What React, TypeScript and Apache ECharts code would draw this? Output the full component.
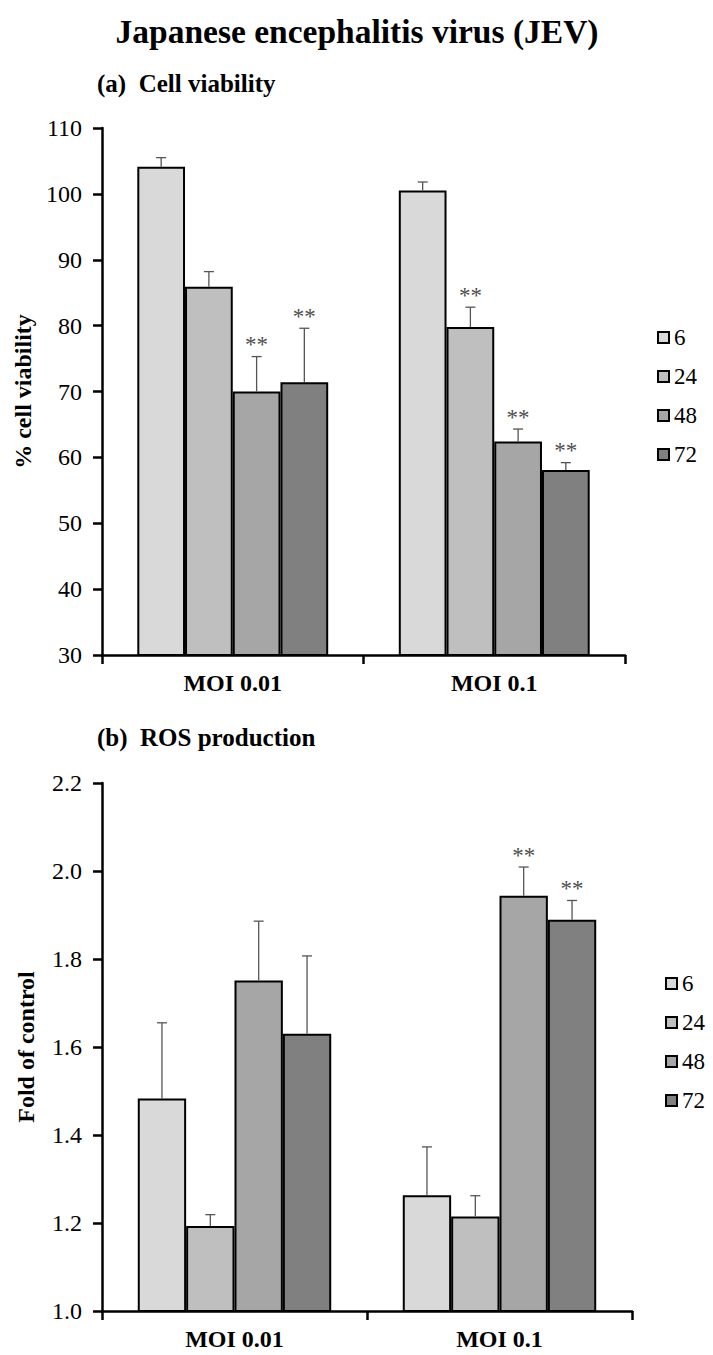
import React, { useEffect, useRef } from "react";
import * as echarts from "echarts";

const categories = ["MOI 0.01", "MOI 0.1"];
const hours = ["6", "24", "48", "72"];
const barColors = ["#d9d9d9", "#bfbfbf", "#a6a6a6", "#808080"];

// (a) Cell viability, % — one array per time point: [MOI 0.01, MOI 0.1]
const viability6 = [104.1, 100.5];
const viability24 = [85.9, 79.8];
const viability48 = [70.0, 62.4];
const viability72 = [71.4, 58.1];
const viabilityErr6 = [1.4, 1.3];
const viabilityErr24 = [2.3, 3.0];
const viabilityErr48 = [5.3, 1.9];
const viabilityErr72 = [8.2, 1.1];
const viabilitySig6 = [false, false];
const viabilitySig24 = [false, true];
const viabilitySig48 = [true, true];
const viabilitySig72 = [true, true];

// (b) ROS production, fold of control
const ros6 = [1.483, 1.263];
const ros24 = [1.193, 1.215];
const ros48 = [1.751, 1.944];
const ros72 = [1.63, 1.889];
const rosErr6 = [0.172, 0.11];
const rosErr24 = [0.026, 0.047];
const rosErr48 = [0.135, 0.065];
const rosErr72 = [0.177, 0.044];
const rosSig6 = [false, false];
const rosSig24 = [false, false];
const rosSig48 = [false, true];
const rosSig72 = [false, true];

const viabilityTicks = { min: 30, max: 110, interval: 10 };
const rosTicks = { min: 1.0, max: 2.2, interval: 0.2 };

const SERIF = "Liberation Serif";
const BAR_GAP_FRAC = 0.27;

function buildErrData(means: number[][], errs: number[][], sigs: boolean[][]) {
  const out: any[] = [];
  for (let s = 0; s < means.length; s++) {
    for (let c = 0; c < categories.length; c++) {
      out.push([c, s, means[s][c], errs[s][c], sigs[s][c] ? 1 : 0]);
    }
  }
  return out;
}

function makeRenderItem() {
  return (params: any, api: any) => {
    const cat = api.value(0);
    const s = api.value(1);
    const v = api.value(2);
    const e = api.value(3);
    const sig = api.value(4);
    const base = api.coord([cat, v]);
    const top = api.coord([cat, v + e]);
    const band = api.size([1, 0])[0];
    const barW = (band * (1 - BAR_GAP_FRAC)) / 4;
    const x = base[0] + (s - 1.5) * barW;
    const children: any[] = [
      {
        type: "line",
        shape: { x1: x, y1: base[1], x2: x, y2: top[1] },
        style: { stroke: "#555", lineWidth: 1.3 },
      },
      {
        type: "line",
        shape: { x1: x - 5, y1: top[1], x2: x + 5, y2: top[1] },
        style: { stroke: "#555", lineWidth: 1.3 },
      },
    ];
    if (sig) {
      children.push({
        type: "text",
        x: x,
        y: top[1] - 12,
        style: {
          text: "**",
          fill: "#4d4d4d",
          fontFamily: SERIF,
          fontSize: 23,
          align: "center",
          verticalAlign: "middle",
        },
      });
    }
    return { type: "group", children };
  };
}

export default function App() {
  const ref = useRef<HTMLDivElement>(null);

  useEffect(() => {
    document.body.style.margin = "0";
    const chart = echarts.init(ref.current!, null, { renderer: "svg" });

    const viaMeans = [viability6, viability24, viability48, viability72];
    const viaErrs = [viabilityErr6, viabilityErr24, viabilityErr48, viabilityErr72];
    const viaSigs = [viabilitySig6, viabilitySig24, viabilitySig48, viabilitySig72];
    const rosMeans = [ros6, ros24, ros48, ros72];
    const rosErrs = [rosErr6, rosErr24, rosErr48, rosErr72];
    const rosSigs = [rosSig6, rosSig24, rosSig48, rosSig72];

    const axisLine = { show: true, lineStyle: { color: "#000", width: 2.5 } };

    const xAxisCommon = {
      type: "category",
      data: categories,
      axisLine,
      axisTick: { show: true, length: 9, lineStyle: { color: "#000", width: 2.5 } },
      axisLabel: {
        color: "#000",
        fontFamily: SERIF,
        fontWeight: "bold",
        fontSize: 24,
        margin: 16,
      },
      splitLine: { show: false },
    };

    const yAxisCommon = {
      type: "value",
      axisLine,
      axisTick: { show: true, length: 9, lineStyle: { color: "#000", width: 2.5 } },
      splitLine: { show: false },
      nameLocation: "middle",
      nameGap: 64,
      nameTextStyle: {
        color: "#000",
        fontFamily: SERIF,
        fontWeight: "bold",
        fontSize: 24,
      },
    };

    const barSeries = (means: number[][], xi: number) =>
      means.map((m, i) => ({
        type: "bar",
        name: hours[i],
        xAxisIndex: xi,
        yAxisIndex: xi,
        data: m,
        barGap: "0%",
        barCategoryGap: BAR_GAP_FRAC * 100 + "%",
        itemStyle: { color: barColors[i], borderColor: "#000", borderWidth: 2 },
        z: 2,
      }));

    const legendCommon = {
      data: hours,
      orient: "vertical",
      icon: "rect",
      itemWidth: 11,
      itemHeight: 11,
      itemGap: 16,
      padding: 0,
      itemStyle: { borderColor: "#000", borderWidth: 2 },
      textStyle: {
        color: "#000",
        fontFamily: SERIF,
        fontSize: 23,
        lineHeight: 23,
      },
      selectedMode: false,
    };

    chart.setOption({
      animation: false,
      backgroundColor: "#fff",
      textStyle: { fontFamily: SERIF },
      grid: [
        { left: 102, top: 128, width: 523, height: 527 },
        { left: 102, top: 783, width: 530, height: 528 },
      ],
      xAxis: [
        { ...xAxisCommon, gridIndex: 0 },
        { ...xAxisCommon, gridIndex: 1 },
      ],
      yAxis: [
        {
          ...yAxisCommon,
          gridIndex: 0,
          name: "% cell viability",
          min: viabilityTicks.min,
          max: viabilityTicks.max,
          interval: viabilityTicks.interval,
          axisLabel: {
            color: "#000",
            fontFamily: SERIF,
            fontSize: 24,
            margin: 20,
          },
        },
        {
          ...yAxisCommon,
          gridIndex: 1,
          name: "Fold of control",
          min: rosTicks.min,
          max: rosTicks.max,
          interval: rosTicks.interval,
          axisLabel: {
            color: "#000",
            fontFamily: SERIF,
            fontSize: 24,
            margin: 20,
            formatter: (v: number) => v.toFixed(1),
          },
        },
      ],
      legend: [
        { ...legendCommon, left: 657, top: 326 },
        { ...legendCommon, left: 665, top: 972 },
      ],
      graphic: [
        {
          type: "text",
          x: 357,
          y: 31,
          style: {
            text: "Japanese encephalitis virus (JEV)",
            fontFamily: SERIF,
            fontWeight: "bold",
            fontSize: 33.5,
            fill: "#000",
            align: "center",
            verticalAlign: "middle",
          },
        },
        {
          type: "text",
          x: 97,
          y: 83,
          style: {
            text: "(a)  Cell viability",
            fontFamily: SERIF,
            fontWeight: "bold",
            fontSize: 25,
            fill: "#000",
            align: "left",
            verticalAlign: "middle",
          },
        },
        {
          type: "text",
          x: 97,
          y: 737,
          style: {
            text: "(b)  ROS production",
            fontFamily: SERIF,
            fontWeight: "bold",
            fontSize: 25,
            fill: "#000",
            align: "left",
            verticalAlign: "middle",
          },
        },
      ],
      series: [
        ...barSeries(viaMeans, 0),
        ...barSeries(rosMeans, 1),
        {
          type: "custom",
          xAxisIndex: 0,
          yAxisIndex: 0,
          renderItem: makeRenderItem(),
          data: buildErrData(viaMeans, viaErrs, viaSigs),
          z: 5,
          silent: true,
        },
        {
          type: "custom",
          xAxisIndex: 1,
          yAxisIndex: 1,
          renderItem: makeRenderItem(),
          data: buildErrData(rosMeans, rosErrs, rosSigs),
          z: 5,
          silent: true,
        },
      ],
    });

    return () => chart.dispose();
  }, []);

  return (
    <div
      ref={ref}
      style={{ position: "absolute", left: 0, top: 0, width: 713, height: 1355, background: "#fff" }}
    />
  );
}
